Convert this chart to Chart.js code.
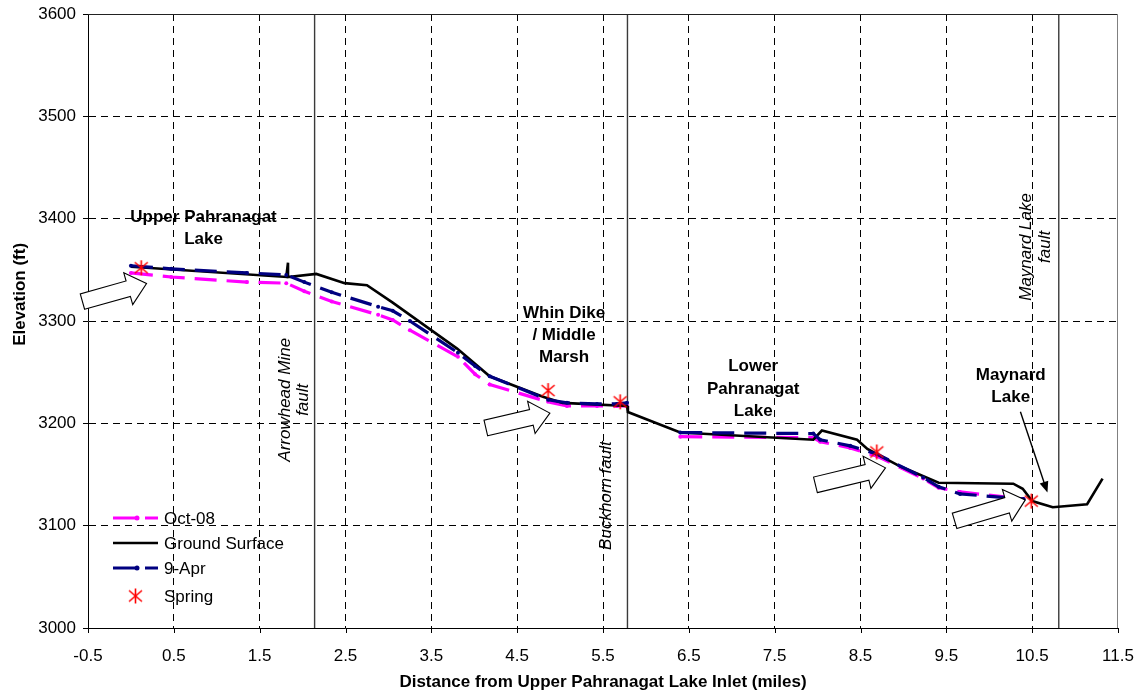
<!DOCTYPE html>
<html><head><meta charset="utf-8">
<script src="https://cdn.jsdelivr.net/npm/chart.js@4/dist/chart.umd.min.js"></script>
<style>html,body{margin:0;padding:0;background:#fff}#wrap{width:1140px;height:696px}</style>
</head><body><div id="wrap"><canvas id="c" width="1140" height="696"></canvas></div>
<script>
// ---------- data ----------
const xTickValues = [-0.5,0.5,1.5,2.5,3.5,4.5,5.5,6.5,7.5,8.5,9.5,10.5,11.5];
const yTickValues = [3000,3100,3200,3300,3400,3500,3600];
const seriesNames = ['Oct-08','Ground Surface','9-Apr','Spring'];

const groundX = [0.0,1.81,1.83,1.83,2.16,2.49,2.75,3.05,3.80,4.18,4.80,5.03,5.78,5.79,6.40,7.95,8.05,8.46,8.58,8.96,9.41,10.28,10.39,10.50,10.74,11.14,11.32];
const groundY = [3353,3343,3357,3343,3346,3337,3335,3318,3273,3246,3226,3220,3217,3211,3191,3184,3193,3184,3175,3158,3142,3141,3136,3124,3118,3121,3146];

const stationX = [0.0,0.47,1.35,1.81,2.02,2.34,2.88,3.05,3.25,3.81,4.01,4.18,4.86,5.08,5.43,5.66,5.78,6.1,6.40,7.95,8.03,8.38,8.69,9.23,9.41,9.66,10.40];
const oct08Y = [3347,3343,3338,3337,3329,3319,3306,3301,3291,3265,3248,3238,3221,3217,3217,3217,3217,null,3187,3186,3182,3176,3168,3146,3137,3133,3126];
const apr09Y = [3354,3351,3347,3345,3338,3328,3314,3310,3300,3269,3256,3246,3223,3220,3219,3219,3220,null,3191,3190,3184,3178,3170,3147,3138,3131,3126];

const springX = [0.12,4.86,5.70,8.69,10.49];
const springY = [3352,3232,3221,3172,3124];

const faultX = [2.14,5.785,10.81];

const lakeLabels = [
  {lines:['Upper Pahranagat','Lake'], x:0.846, y:[3401,3379.6]},
  {lines:['Whin Dike','/ Middle','Marsh'], x:5.046, y:[3308,3286.5,3265]},
  {lines:['Lower','Pahranagat','Lake'], x:7.25, y:[3255.4,3233,3211.5]},
  {lines:['Maynard','Lake'], x:10.25, y:[3246.5,3225]}
];
const faultLabels = [
  {lines:['Arrowhead Mine','fault'], x:[1.797,2.006], y:3223},
  {lines:['Buckhorn fault'], x:[5.535], y:3129.4},
  {lines:['Maynard Lake','fault'], x:[10.433,10.655], y:3372.4}
];
const blockArrows = [
  {from:[-0.565,3319], to:[0.182,3336.6]},
  {from:[4.135,3195.4], to:[4.881,3210]},
  {from:[7.975,3139.9], to:[8.791,3156.5]},
  {from:[9.596,3104.7], to:[10.42,3125.2]}
];
const pointerArrow = {from:[10.363,3211.4], to:[10.678,3132.3]};

// ---------- styles ----------
const FONT = "'Liberation Sans', Arial, sans-serif";
const MAGENTA = '#FF00FF', NAVY = '#000080';
const DASH = [22,10];

function makeStar(){
  const c = document.createElement('canvas');
  c.width = 17; c.height = 17;
  const g = c.getContext('2d');
  g.strokeStyle = '#FF0000'; g.lineWidth = 1.6;
  g.beginPath();
  g.moveTo(8.5,1); g.lineTo(8.5,16);
  g.moveTo(2,3); g.lineTo(15,14);
  g.moveTo(15,3); g.lineTo(2,14);
  g.stroke();
  return c;
}
const starImg = makeStar();

const pts = (xs, ys) => xs.map((x,i)=>({x, y: ys[i]}));

const datasets = [
  {label:'Spring', data:pts(springX,springY), showLine:false, pointStyle:starImg, pointRadius:8, order:0},
  {label:'9-Apr', data:pts(stationX,apr09Y), borderColor:NAVY, backgroundColor:NAVY, borderWidth:3.2, borderDash:DASH,
   pointRadius:2, pointBorderWidth:0, pointBackgroundColor:NAVY, spanGaps:false, order:1},
  {label:'Ground Surface', data:pts(groundX,groundY), borderColor:'#000', borderWidth:2.6, pointRadius:0, order:2},
  {label:'Oct-08', data:pts(stationX,oct08Y), borderColor:MAGENTA, backgroundColor:MAGENTA, borderWidth:3.2, borderDash:DASH,
   pointRadius:2, pointBorderWidth:0, pointBackgroundColor:MAGENTA, spanGaps:false, order:3}
];
faultX.forEach(fx => datasets.push({label:'fault', data:[{x:fx,y:yTickValues[0]},{x:fx,y:yTickValues[yTickValues.length-1]}],
  borderColor:'#3a3a3a', borderWidth:1.4, pointRadius:0, order:4}));

function blockArrow(ctx, x0,y0,x1,y1){
  const dx=x1-x0, dy=y1-y0, L=Math.hypot(dx,dy);
  const ux=dx/L, uy=dy/L, nx=-uy, ny=ux;
  const bw=8, hw=16.5, hl=19;
  const mx=x1-ux*hl, my=y1-uy*hl;
  ctx.beginPath();
  ctx.moveTo(x0+nx*bw,y0+ny*bw);
  ctx.lineTo(mx+nx*bw,my+ny*bw);
  ctx.lineTo(mx+nx*hw,my+ny*hw);
  ctx.lineTo(x1,y1);
  ctx.lineTo(mx-nx*hw,my-ny*hw);
  ctx.lineTo(mx-nx*bw,my-ny*bw);
  ctx.lineTo(x0-nx*bw,y0-ny*bw);
  ctx.closePath();
  ctx.fillStyle='#fff'; ctx.fill();
  ctx.strokeStyle='#000'; ctx.lineWidth=1.1; ctx.stroke();
}

const decor = {
  id:'decor',
  afterDatasetsDraw(chart){
    const {ctx, chartArea:a, scales:{x,y}} = chart;
    ctx.save();
    // frame top/right
    ctx.lineWidth=1;
    ctx.strokeStyle='#222';
    ctx.beginPath(); ctx.moveTo(a.left, a.top+0.5); ctx.lineTo(a.right, a.top+0.5); ctx.stroke();
    ctx.strokeStyle='#808080';
    ctx.beginPath(); ctx.moveTo(a.right-0.5, a.top); ctx.lineTo(a.right-0.5, a.bottom); ctx.stroke();
    // x tick marks (outside)
    ctx.strokeStyle='#000';
    xTickValues.forEach(v=>{
      const px=Math.round(x.getPixelForValue(v))+0.5;
      ctx.beginPath(); ctx.moveTo(px,a.bottom); ctx.lineTo(px,a.bottom+5); ctx.stroke();
    });
    // lake labels
    ctx.fillStyle='#000';
    ctx.font='bold 17px '+FONT;
    ctx.textAlign='center'; ctx.textBaseline='middle';
    lakeLabels.forEach(l=>{
      l.lines.forEach((t,i)=>ctx.fillText(t, x.getPixelForValue(l.x), y.getPixelForValue(l.y[i])));
    });
    // fault labels
    ctx.font='italic 17px '+FONT;
    faultLabels.forEach(l=>{
      l.lines.forEach((t,i)=>{
        ctx.save();
        ctx.translate(x.getPixelForValue(l.x[i]), y.getPixelForValue(l.y));
        ctx.rotate(-Math.PI/2);
        ctx.fillText(t,0,0);
        ctx.restore();
      });
    });
    // block arrows
    blockArrows.forEach(b=>blockArrow(ctx, x.getPixelForValue(b.from[0]), y.getPixelForValue(b.from[1]),
      x.getPixelForValue(b.to[0]), y.getPixelForValue(b.to[1])));
    // pointer arrow
    {
      const x0=x.getPixelForValue(pointerArrow.from[0]), y0=y.getPixelForValue(pointerArrow.from[1]);
      const x1=x.getPixelForValue(pointerArrow.to[0]), y1=y.getPixelForValue(pointerArrow.to[1]);
      const L=Math.hypot(x1-x0,y1-y0), ux=(x1-x0)/L, uy=(y1-y0)/L;
      const hl=11, hw=4.5;
      ctx.strokeStyle='#000'; ctx.lineWidth=1.4;
      ctx.beginPath(); ctx.moveTo(x0,y0); ctx.lineTo(x1-ux*hl*0.8,y1-uy*hl*0.8); ctx.stroke();
      ctx.beginPath(); ctx.moveTo(x1,y1);
      ctx.lineTo(x1-ux*hl-uy*hw, y1-uy*hl+ux*hw);
      ctx.lineTo(x1-ux*hl+uy*hw, y1-uy*hl-ux*hw);
      ctx.closePath(); ctx.fillStyle='#000'; ctx.fill();
    }
    // y title
    ctx.save();
    ctx.font='bold 17px '+FONT; ctx.fillStyle='#000';
    ctx.translate(20, y.getPixelForValue(3326));
    ctx.rotate(-Math.PI/2);
    ctx.textAlign='center'; ctx.textBaseline='middle';
    ctx.fillText('Elevation (ft)',0,0);
    ctx.restore();
    // legend
    const lx0=a.left+25, lx1=a.left+70, tx=a.left+76;
    const rows=[a.bottom-110,a.bottom-85,a.bottom-60,a.bottom-32];
    ctx.font='17px '+FONT; ctx.textAlign='left'; ctx.textBaseline='middle';
    const styles = {
      'Oct-08':{c:MAGENTA,w:3.2,d:DASH,m:true},
      'Ground Surface':{c:'#000',w:2.6,d:[],m:false},
      '9-Apr':{c:NAVY,w:3.2,d:DASH,m:true}
    };
    seriesNames.forEach((n,i)=>{
      const ry=rows[i];
      if(n==='Spring'){
        ctx.drawImage(starImg, (lx0+lx1)/2-8.5, ry-8.5);
      } else {
        const s=styles[n];
        ctx.save(); ctx.strokeStyle=s.c; ctx.lineWidth=s.w; ctx.setLineDash(s.d);
        ctx.beginPath(); ctx.moveTo(lx0,ry); ctx.lineTo(lx1,ry); ctx.stroke(); ctx.restore();
        if(s.m){ ctx.fillStyle=s.c; ctx.beginPath(); ctx.arc(lx0+24,ry,2.5,0,Math.PI*2); ctx.fill(); }
      }
      ctx.fillStyle='#000';
      ctx.fillText(n, tx, ry+1);
    });
    ctx.restore();
  }
};

new Chart(document.getElementById('c'), {
  type:'line',
  data:{datasets},
  options:{
    responsive:false, animation:false, devicePixelRatio:1,
    layout:{padding:{left:0,top:14,right:22,bottom:0}},
    plugins:{legend:{display:false}, tooltip:{enabled:false}},
    elements:{line:{tension:0}},
    scales:{
      x:{type:'linear', min:-0.5, max:11.5,
        afterBuildTicks:s=>{s.ticks=xTickValues.map(v=>({value:v}));},
        afterFit:s=>{s.height=68; s.paddingLeft=0; s.paddingRight=0;},
        ticks:{autoSkip:false, maxRotation:0, padding:18, color:'#000', font:{family:FONT,size:17},
          callback:v=>String(v)},
        grid:{drawTicks:false, color:c=>(c.index===0||c.index===xTickValues.length-1)?'rgba(0,0,0,0)':'#000', lineWidth:1},
        border:{display:true, color:'#000', width:1, dash:[7,5]},
        title:{display:true, text:'Distance from Upper Pahranagat Lake Inlet (miles)', color:'#000',
          font:{family:FONT,size:17,weight:'bold'}, padding:{top:0,bottom:3}}
      },
      y:{type:'linear', min:3000, max:3600,
        afterBuildTicks:s=>{s.ticks=yTickValues.map(v=>({value:v}));},
        afterFit:s=>{s.width=88; s.paddingTop=0; s.paddingBottom=0;},
        ticks:{padding:7, color:'#000', font:{family:FONT,size:17}, callback:v=>String(v)},
        grid:{drawTicks:true, tickLength:5, tickColor:'#000',
          color:c=>(c.index===0||c.index===yTickValues.length-1)?'rgba(0,0,0,0)':'#000', lineWidth:1},
        border:{display:true, color:'#000', width:1, dash:[7,5]}
      }
    }
  },
  plugins:[decor]
});
</script></body></html>
